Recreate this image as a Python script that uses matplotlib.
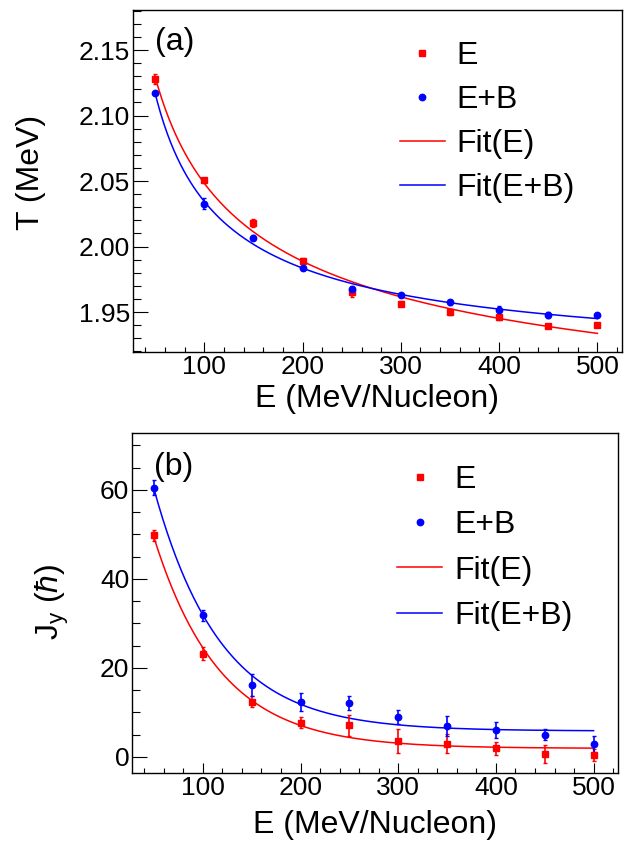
import numpy as np
import matplotlib
matplotlib.use("Agg")
import matplotlib.pyplot as plt
from matplotlib.lines import Line2D
from matplotlib.ticker import MultipleLocator, FormatStrFormatter

plt.rcParams['font.family'] = ['Liberation Sans', 'DejaVu Sans']
plt.rcParams['mathtext.fontset'] = 'custom'
plt.rcParams['mathtext.rm'] = 'Liberation Sans'
plt.rcParams['mathtext.it'] = 'Liberation Sans:italic'

energy = [50, 100, 150, 200, 250, 300, 350, 400, 450, 500]

T_E = [2.128, 2.0505, 2.018, 1.989, 1.9655, 1.9564, 1.950, 1.946, 1.939, 1.9404]
T_E_err = [0.004, 0.002, 0.003, 0.002, 0.004, 0.002, 0.002, 0.002, 0.001, 0.001]
T_EB = [2.117, 2.0327, 2.0068, 1.9833, 1.9673, 1.9632, 1.9574, 1.9513, 1.9478, 1.9475]
T_EB_err = [0.001, 0.004, 0.002, 0.001, 0.002, 0.001, 0.002, 0.003, 0.002, 0.001]

J_E = [49.8, 23.2, 12.4, 7.7, 7.1, 3.6, 3.0, 1.9, 0.7, 0.4]
J_E_err = [1.2, 1.5, 1.2, 1.3, 2.3, 2.7, 2.2, 1.5, 2.0, 1.3]
J_EB = [60.5, 31.8, 16.2, 12.3, 12.2, 9.0, 6.9, 6.0, 5.0, 2.9]
J_EB_err = [1.7, 1.2, 2.5, 2.0, 1.6, 1.5, 2.2, 1.8, 1.2, 1.7]

RED = '#ff0000'
BLUE = '#0000ff'


def fit_power(x, y):
    x = np.asarray(x, float); y = np.asarray(y, float)
    best = None
    for c in np.linspace(0.05, 3.0, 600):
        A = np.vstack([np.ones_like(x), x ** (-c)]).T
        coef, *_ = np.linalg.lstsq(A, y, rcond=None)
        r = np.sum((A @ coef - y) ** 2)
        if best is None or r < best[0]:
            best = (r, c, coef)
    _, c, (a, b) = best
    return lambda t: a + b * t ** (-c)


def fit_exp(x, y):
    x = np.asarray(x, float); y = np.asarray(y, float)
    best = None
    for c in np.linspace(10, 300, 600):
        A = np.vstack([np.ones_like(x), np.exp(-x / c)]).T
        coef, *_ = np.linalg.lstsq(A, y, rcond=None)
        r = np.sum((A @ coef - y) ** 2)
        if best is None or r < best[0]:
            best = (r, c, coef)
    _, c, (a, b) = best
    return lambda t: a + b * np.exp(-t / c)


fig = plt.figure(figsize=(6.31, 8.42), dpi=100)
ax1 = fig.add_axes([0.2108, 0.582, 0.7749, 0.406])
ax2 = fig.add_axes([0.2092, 0.082, 0.7702, 0.4037])

FS = 23
TFS = 19
MS_SQ = 5.0
MS_CI = 4.6


def style(ax, ymajor, yminor):
    ax.set_xlim(27.5, 525)
    ax.xaxis.set_major_locator(MultipleLocator(100))
    ax.xaxis.set_minor_locator(MultipleLocator(20))
    ax.yaxis.set_major_locator(MultipleLocator(ymajor))
    ax.yaxis.set_minor_locator(MultipleLocator(yminor))
    ax.tick_params(axis='both', which='both', direction='in', top=False, right=False,
                   labelsize=TFS, width=0.8)
    ax.tick_params(axis='x', which='major', length=7.2, pad=2)
    ax.tick_params(axis='x', which='minor', length=3.6)
    ax.tick_params(axis='y', which='major', length=10.8, pad=2)
    ax.tick_params(axis='y', which='minor', length=5.6)
    for s in ax.spines.values():
        s.set_linewidth(1.0)
    ax.set_xlabel('E (MeV/Nucleon)', fontsize=FS)


xs = np.linspace(50, 500, 400)

# Panel (a)
fE = fit_power(energy, T_E)
fEB = fit_power(energy, T_EB)
ax1.plot(xs, fE(xs), color=RED, lw=1.1)
ax1.plot(xs, fEB(xs), color=BLUE, lw=1.1)
ax1.errorbar(energy, T_E, yerr=T_E_err, fmt='s', color=RED, ms=MS_SQ, capsize=1.5, elinewidth=1.2)
ax1.errorbar(energy, T_EB, yerr=T_EB_err, fmt='o', color=BLUE, ms=MS_CI, capsize=1.5, elinewidth=1.2)
style(ax1, 0.05, 0.01)
ax1.set_ylim(1.9195, 2.1805)
ax1.yaxis.set_major_formatter(FormatStrFormatter('%.2f'))
ax1.set_ylabel('T (MeV)', fontsize=FS)
ax1.yaxis.set_label_coords(-0.178, 0.526)
ax1.xaxis.set_label_coords(0.5, -0.095)
ax1.text(0.045, 0.95, '(a)', transform=ax1.transAxes, fontsize=FS, va='top', ha='left')

# Panel (b)
gE = fit_exp(energy, J_E)
gEB = fit_exp(energy, J_EB)
ax2.plot(xs, gE(xs), color=RED, lw=1.1)
ax2.plot(xs, gEB(xs), color=BLUE, lw=1.1)
ax2.errorbar(energy, J_E, yerr=J_E_err, fmt='s', color=RED, ms=MS_SQ, capsize=1.5, elinewidth=1.2)
ax2.errorbar(energy, J_EB, yerr=J_EB_err, fmt='o', color=BLUE, ms=MS_CI, capsize=1.5, elinewidth=1.2)
style(ax2, 20, 5)
ax2.set_ylim(-3.6, 72.8)
ax2.set_ylabel(r'J$_{\mathrm{y}}$ ($\hbar$)', fontsize=FS)
ax2.yaxis.set_label_coords(-0.126, 0.503)
ax2.xaxis.set_label_coords(0.5, -0.11)
ax2.text(0.045, 0.945, '(b)', transform=ax2.transAxes, fontsize=FS, va='top', ha='left')

handles = [
    Line2D([], [], marker='s', color=RED, ls='none', ms=MS_SQ),
    Line2D([], [], marker='o', color=BLUE, ls='none', ms=MS_CI),
    Line2D([], [], color=RED, lw=1.1),
    Line2D([], [], color=BLUE, lw=1.1),
]
labels = ['E', 'E+B', 'Fit(E)', 'Fit(E+B)']
for ax, anchor, sp in ((ax1, (0.50, 0.975), 0.44), (ax2, (0.50, 0.972), 0.48)):
    ax.legend(handles, labels, loc='upper left', bbox_to_anchor=anchor, frameon=False,
              fontsize=FS, handlelength=1.4, handletextpad=0.37, labelspacing=sp,
              borderaxespad=0.3, borderpad=0.4, numpoints=1)

fig.savefig('out.png', dpi=100)
